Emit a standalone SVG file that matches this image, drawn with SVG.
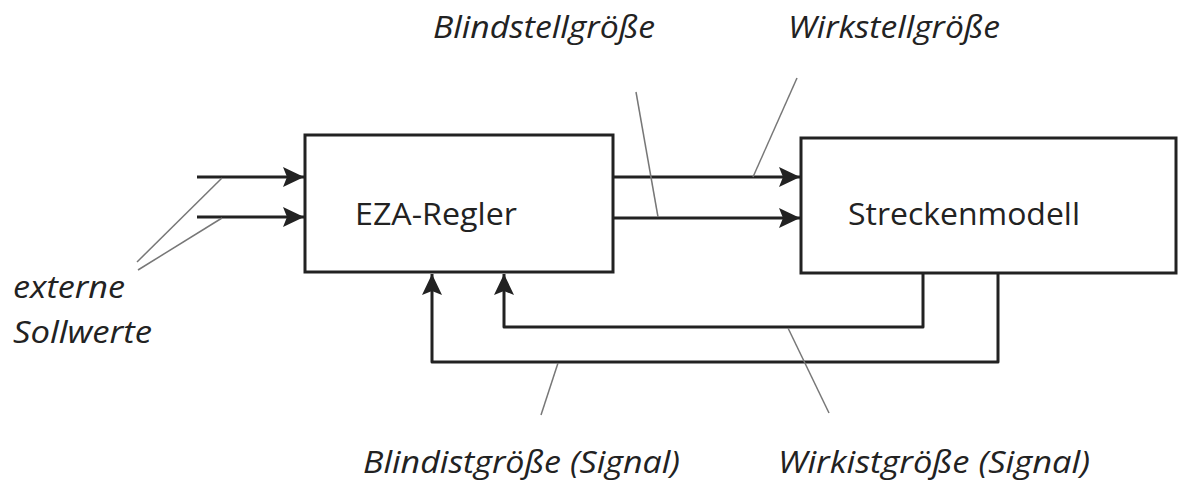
<svg xmlns="http://www.w3.org/2000/svg" width="1178" height="481" viewBox="0 0 1178 481">
<style>
.box{fill:#fff;stroke:#222;stroke-width:3}
.conn{fill:none;stroke:#222;stroke-width:3;stroke-linejoin:round}
.ptr{fill:none;stroke:#777;stroke-width:1.5}
.lbl{font-family:"Open Sans","Liberation Sans",sans-serif;font-style:italic;font-size:31px;fill:#222}
.name{font-family:"Open Sans","Liberation Sans",sans-serif;font-size:31px;fill:#222}
</style>
<defs>
<marker id="ah" markerUnits="userSpaceOnUse" markerWidth="24" markerHeight="22" refX="21" refY="10" orient="auto">
<path d="M0,0 L21,10 L0,20 L4,10 Z" fill="#222"/>
</marker>
</defs>
<rect width="1178" height="481" fill="#fff"/>
<g id="eza">
<rect class="box" x="305" y="135" width="308" height="137"/>
<text class="name" x="355" y="225" textLength="162" lengthAdjust="spacingAndGlyphs">EZA-Regler</text>
</g>
<g id="strecke">
<rect class="box" x="801" y="138" width="375" height="135"/>
<text class="name" x="848" y="225" textLength="232" lengthAdjust="spacingAndGlyphs">Streckenmodell</text>
</g>
<g id="connectors">
<line class="conn" x1="197" y1="177" x2="304" y2="177" marker-end="url(#ah)"/>
<line class="conn" x1="197" y1="217" x2="304" y2="217" marker-end="url(#ah)"/>
<line class="conn" x1="613" y1="177" x2="800" y2="177" marker-end="url(#ah)"/>
<line class="conn" x1="613" y1="218" x2="800" y2="218" marker-end="url(#ah)"/>
<polyline class="conn" points="923,273 923,327 504,327 504,274" marker-end="url(#ah)"/>
<polyline class="conn" points="998,273 998,362 432,362 432,274" marker-end="url(#ah)"/>
</g>
<g id="pointers">
<line class="ptr" x1="137" y1="262" x2="222" y2="178"/>
<line class="ptr" x1="138" y1="270" x2="222" y2="218"/>
<line class="ptr" x1="636" y1="92" x2="658" y2="217"/>
<line class="ptr" x1="797" y1="78" x2="753" y2="177"/>
<line class="ptr" x1="558" y1="363" x2="541" y2="415"/>
<line class="ptr" x1="788" y1="328" x2="829" y2="413"/>
</g>
<g id="labels">
<text class="lbl" x="433" y="38" textLength="222" lengthAdjust="spacingAndGlyphs">Blindstellgröße</text>
<text class="lbl" x="788" y="38" textLength="212" lengthAdjust="spacingAndGlyphs">Wirkstellgröße</text>
<text class="lbl" x="13" y="298" textLength="112" lengthAdjust="spacingAndGlyphs">externe</text>
<text class="lbl" x="13" y="343" textLength="139" lengthAdjust="spacingAndGlyphs">Sollwerte</text>
<text class="lbl" x="363" y="473" textLength="317" lengthAdjust="spacingAndGlyphs">Blindistgröße (Signal)</text>
<text class="lbl" x="778" y="473" textLength="312" lengthAdjust="spacingAndGlyphs">Wirkistgröße (Signal)</text>
</g>
</svg>
